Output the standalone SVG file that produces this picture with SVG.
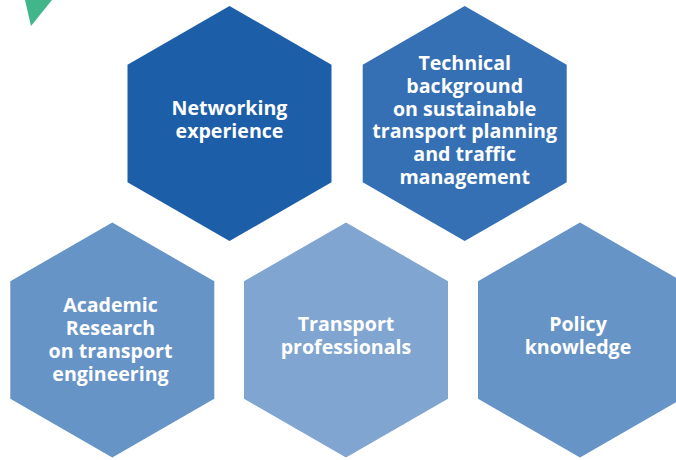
<svg xmlns="http://www.w3.org/2000/svg" width="676" height="460" viewBox="0 0 676 460">
<style>
.lbl{font-family:"Open Sans","Noto Sans","Liberation Sans",sans-serif;font-weight:700;font-size:19.6px;fill:#ffffff;text-anchor:middle}
</style>
<defs>
<polygon id="hex" points="0,-117.5 102,-58.75 102,58.75 0,117.5 -102,58.75 -102,-58.75"/>
</defs>
<rect width="676" height="460" fill="#ffffff"/>
<polygon points="25,0 52,0 31,26" fill="#41b68b"/>
<g id="connectors"/>
<g id="networking">
<use href="#hex" x="229.5" y="123.5" fill="#1d5ea8"/>
<text class="lbl" x="229.5" y="115">Networking</text>
<text class="lbl" x="229.5" y="137.8">experience</text>
</g>
<g id="technical">
<use href="#hex" x="464.7" y="123.5" fill="#3570b4"/>
<text class="lbl" x="464.7" y="70">Technical</text>
<text class="lbl" x="464.7" y="92.8">background</text>
<text class="lbl" x="464.7" y="115.6">on sustainable</text>
<text class="lbl" x="464.7" y="138.4">transport planning</text>
<text class="lbl" x="464.7" y="161.2">and traffic</text>
<text class="lbl" x="464.7" y="184">management</text>
</g>
<g id="academic">
<use href="#hex" x="112.3" y="340" fill="#6794c7"/>
<text class="lbl" x="110.5" y="312.3">Academic</text>
<text class="lbl" x="110.5" y="335.1">Research</text>
<text class="lbl" x="110.5" y="357.9">on transport</text>
<text class="lbl" x="110.5" y="380.7">engineering</text>
</g>
<g id="professionals">
<use href="#hex" x="346" y="340" fill="#7fa5d0"/>
<text class="lbl" x="346" y="330.7">Transport</text>
<text class="lbl" x="346" y="353.5">professionals</text>
</g>
<g id="policy">
<use href="#hex" x="580" y="340" fill="#6794c7"/>
<text class="lbl" x="578" y="331">Policy</text>
<text class="lbl" x="578" y="353.8">knowledge</text>
</g>
</svg>
